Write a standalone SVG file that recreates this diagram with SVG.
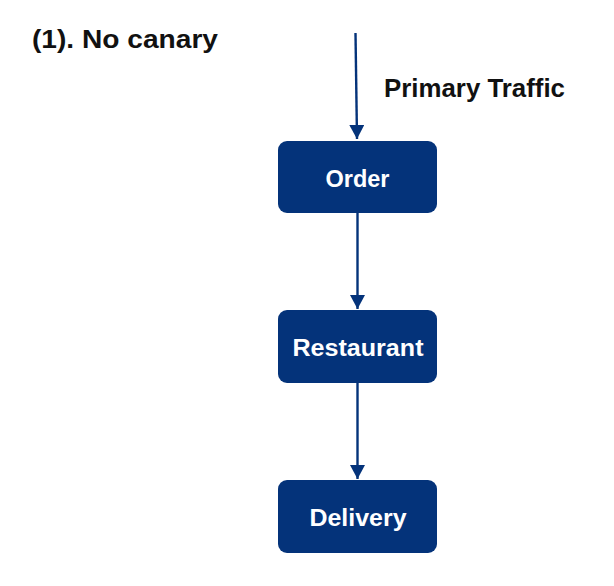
<svg xmlns="http://www.w3.org/2000/svg" width="614" height="586" viewBox="0 0 614 586">
  <style>
    .node { fill: #04337A; }
    .label { font-family: "Liberation Sans", Arial, sans-serif; font-weight: bold; font-size: 23.5px; fill: #ffffff; text-anchor: middle; }
    .title { font-family: "Liberation Sans", Arial, sans-serif; font-weight: bold; font-size: 25px; fill: #111111; }
    .edge { stroke: #04337A; stroke-width: 2.4; fill: none; }
  </style>
  <defs>
    <marker id="arrow" markerUnits="userSpaceOnUse" markerWidth="16" markerHeight="16" refX="14" refY="7.5" orient="auto">
      <path d="M0,0 L14,7.5 L0,15 Z" fill="#04337A"/>
    </marker>
  </defs>
  <rect width="614" height="586" fill="#ffffff"/>
  <text class="title" x="32" y="48" textLength="186" lengthAdjust="spacingAndGlyphs">(1). No canary</text>
  <text class="title" x="384" y="97" textLength="181" lengthAdjust="spacingAndGlyphs">Primary Traffic</text>
  <g id="connectors">
    <line class="edge" x1="355.5" y1="33" x2="357" y2="139" marker-end="url(#arrow)"/>
    <line class="edge" x1="357.5" y1="213" x2="357.5" y2="309" marker-end="url(#arrow)"/>
    <line class="edge" x1="357.5" y1="383" x2="357.5" y2="479" marker-end="url(#arrow)"/>
  </g>
  <g id="order">
    <rect class="node" x="278" y="141" width="159" height="72" rx="9"/>
    <text class="label" x="357.5" y="186.5" textLength="64" lengthAdjust="spacingAndGlyphs">Order</text>
  </g>
  <g id="restaurant">
    <rect class="node" x="278" y="310" width="159" height="73" rx="9"/>
    <text class="label" x="358" y="356" textLength="131" lengthAdjust="spacingAndGlyphs">Restaurant</text>
  </g>
  <g id="delivery">
    <rect class="node" x="278" y="480" width="159" height="73" rx="9"/>
    <text class="label" x="358" y="526" textLength="97" lengthAdjust="spacingAndGlyphs">Delivery</text>
  </g>
</svg>
